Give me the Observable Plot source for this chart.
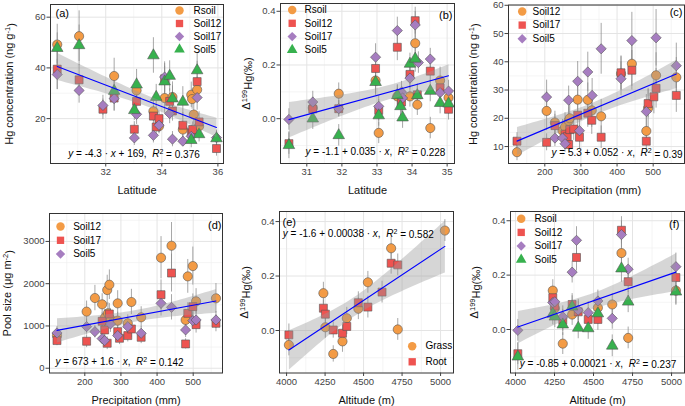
<!DOCTYPE html>
<html><head><meta charset="utf-8">
<script src="https://cdn.jsdelivr.net/npm/d3@7"></script>
<script src="https://cdn.jsdelivr.net/npm/@observablehq/plot@0.6"></script>
<style>
body{margin:0;background:#fff;}
#wrap{position:relative;width:685px;height:406px;overflow:hidden;background:#fff;font-family:"Liberation Sans",Arial,sans-serif;}
.panel{position:absolute;}
</style></head><body><div id="wrap"></div>
<script>
// ---------- DATA: [x, y, error] ----------
// (a) Hg concentration vs latitude
const a_Rsoil  = [[30.27,49.2,8],[31.05,52.5,10],[32.3,36.8,7],[33.1,31.1,5],[33.7,22.9,4],[33.9,17.0,3],[34.1,28.1,6],[34.38,28.5,6],[34.75,15.7,3],[35.05,29.4,5],[35.08,27.7,4],[35.14,21.6,5],[35.26,31.4,5],[35.33,17.0,3]];
const a_Soil12 = [[30.27,39.5,8],[31.05,35.3,6],[31.9,23.7,4],[32.3,28.1,5],[33.02,15.8,3],[33.1,26.8,5],[33.7,21.0,4],[33.8,16.7,3],[33.9,20.0,3],[34.1,35.7,6],[34.28,26.8,5],[34.38,23.0,4],[34.75,17.4,5],[35.05,14.4,3],[35.1,15.7,3],[35.26,34.6,8],[35.33,18.7,4],[35.95,8.2,3]];
const a_Soil17 = [[30.27,37.4,6],[31.05,31.1,5],[31.9,25.2,4],[32.3,27.9,5],[33.02,12.4,3],[33.1,21.7,4],[33.7,13.4,3],[33.9,17.4,3],[34.1,36.4,6],[34.28,22.0,4],[34.38,11.9,3],[34.75,11.1,2],[35.05,13.0,3],[35.26,28.3,5],[35.95,12.5,3]];
const a_Soil5  = [[30.27,47.8,6],[31.05,48.9,8],[32.3,30.9,5],[33.02,23.3,4],[33.1,33.4,6],[33.7,44.9,7],[33.8,28.5,5],[34.1,34.6,6],[34.28,36.8,6],[34.38,27.9,5],[34.75,26.6,6],[35.05,11.5,3],[35.26,39.0,7],[35.33,13.8,3],[35.95,12.2,3]];
// (b) Δ199Hg vs latitude
const b_Rsoil  = [[31.17,0.040,0.04],[31.91,0.093,0.04],[32.96,0.142,0.05],[33.05,-0.053,0.04],[33.58,0.083,0.04],[33.94,0.083,0.04],[34.09,0.281,0.05],[34.15,0.052,0.04],[34.52,-0.035,0.04],[34.80,0.142,0.05],[35.04,0.078,0.04]];
const b_Soil12 = [[30.49,-0.093,0.04],[31.17,0.036,0.04],[31.91,0.037,0.03],[32.96,0.187,0.05],[33.05,0.031,0.04],[33.58,0.266,0.05],[33.70,0.062,0.04],[33.94,0.165,0.04],[34.09,0.365,0.05],[34.15,0.089,0.04],[34.52,0.177,0.04],[34.80,0.115,0.04],[35.04,0.035,0.04]];
const b_Soil17 = [[30.49,-0.003,0.04],[31.17,0.062,0.04],[31.91,0.037,0.03],[32.96,0.229,0.05],[33.05,0.046,0.04],[33.58,0.328,0.05],[33.70,0.099,0.04],[33.73,0.077,0.04],[33.94,0.151,0.04],[34.09,0.349,0.05],[34.18,0.209,0.04],[34.52,0.222,0.04],[34.80,0.097,0.04],[35.04,0.103,0.04]];
const b_Soil5  = [[30.49,-0.099,0.05],[31.17,0.000,0.04],[31.91,-0.062,0.04],[32.96,0.136,0.05],[33.05,0.012,0.04],[33.58,0.087,0.04],[33.67,0.046,0.04],[33.73,0.004,0.04],[33.94,0.204,0.04],[34.09,0.223,0.05],[34.15,0.087,0.04],[34.52,0.103,0.04],[34.80,0.058,0.04],[35.04,0.056,0.04]];
// (c) Hg concentration vs precipitation
const c_Soil12 = [[123,8.0,3],[205,22.6,7],[228,18.5,4],[249,15.6,4],[256,17.0,5],[266,19.1,5],[269,20.0,6],[291,26.6,7],[319,26.5,6],[330,22.8,6],[356,20.7,6],[411,35.8,6],[441,39.3,8],[481,15.5,5],[486,23.6,7],[508,35.2,8],[564,34.5,7]];
const c_Soil17 = [[123,11.9,3],[205,11.5,3],[228,17.4,4],[256,14.4,4],[262,13.5,4],[266,10.7,3],[269,16.0,5],[280,16.2,4],[291,21.1,5],[296,13.3,4],[319,21.8,5],[330,19.3,5],[356,13.3,4],[411,36.1,6],[441,37.0,7],[481,11.9,4],[486,25.2,5],[502,27.6,6],[508,30.6,7],[564,28.1,6]];
const c_Soil5  = [[205,27.5,6],[228,13.0,3],[249,13.0,3],[256,11.0,3],[266,26.4,5],[291,33.1,7],[296,15.6,4],[319,36.4,7],[331,28.1,6],[356,44.6,9],[411,34.0,6],[441,47.5,10],[481,22.4,6],[508,48.5,10],[564,38.6,8]];
// (d) Pool size vs precipitation
const d_Soil12 = [[123,772,150],[205,1339,250],[228,1661,300],[248,1512,250],[255,1189,200],[262,1850,350],[264,1300,250],[268,1976,350],[271,1165,250],[291,1535,300],[291,1126,200],[319,1063,200],[329,1567,300],[356,1205,250],[411,2614,500],[440,2898,550],[479,1142,250],[485,2173,400],[499,2417,450],[508,1583,300],[563,1654,350]];
const d_Soil17 = [[123,654,120],[205,638,150],[248,1110,200],[255,906,180],[262,591,150],[268,1283,250],[291,866,180],[296,709,150],[319,772,150],[329,929,200],[356,732,150],[411,1740,350],[440,2252,450],[479,575,120],[485,1299,250],[499,1457,300],[508,1031,200],[563,1063,200]];
const d_Soil5  = [[123,835,150],[205,984,180],[228,866,150],[248,701,130],[255,654,130],[271,1047,200],[291,772,150],[319,984,180],[356,827,150],[411,1535,300],[440,1441,300],[479,906,180],[499,1126,200],[508,1142,200],[563,1142,200]];
// (e) Δ199Hg vs altitude (vegetation)
const e_Grass = [[4015,-0.053,0.04],[4239,0.137,0.04],[4252,0.012,0.04],[4303,-0.086,0.03],[4363,-0.040,0.04],[4391,0.045,0.04],[4466,0.080,0.04],[4528,0.177,0.04],[4679,0.302,0.04],[4722,0.004,0.04],[5028,0.367,0.04]];
const e_Root  = [[4015,-0.016,0.04],[4239,0.082,0.03],[4252,0.060,0.03],[4303,0.002,0.03],[4363,-0.010,0.03],[4391,0.015,0.03],[4466,0.102,0.04],[4528,0.086,0.04],[4620,0.141,0.04],[4679,0.247,0.04],[4722,0.241,0.04]];
// (f) Δ199Hg vs altitude (soils)
const f_Rsoil  = [[4239,0.143,0.04],[4252,0.078,0.04],[4303,-0.052,0.04],[4363,0.055,0.04],[4528,0.080,0.04],[4620,0.092,0.04],[4679,0.281,0.05],[4722,-0.031,0.04],[5028,0.143,0.05]];
const f_Soil12 = [[4015,-0.089,0.04],[4239,0.117,0.04],[4252,0.086,0.04],[4303,0.034,0.04],[4363,0.092,0.04],[4391,0.265,0.05],[4402,0.065,0.04],[4466,0.037,0.04],[4528,0.037,0.04],[4679,0.365,0.05],[4722,0.176,0.04],[5028,0.191,0.05]];
const f_Soil17 = [[4015,-0.003,0.04],[4239,0.099,0.04],[4252,0.102,0.04],[4303,0.047,0.04],[4363,0.211,0.04],[4391,0.328,0.05],[4402,0.071,0.04],[4466,0.062,0.04],[4528,0.105,0.04],[4620,0.041,0.04],[4679,0.349,0.05],[4722,0.222,0.04],[5028,0.231,0.05]];
const f_Soil5  = [[4015,-0.100,0.05],[4239,0.057,0.04],[4252,0.047,0.04],[4303,0.018,0.04],[4363,0.084,0.04],[4402,0.006,0.04],[4466,0.004,0.04],[4528,0.059,0.04],[4620,-0.060,0.04],[4679,0.224,0.05],[4722,0.102,0.04],[5028,0.139,0.05]];

// tick values
const latTicksA = [32,34,36], latMinorA = [31,33,35];
const hgTicksA = [20,40,60], hgMinorA = [10,30,50];
const latTicksB = [31,32,33,34,35], latMinorB = [30.5,31.5,32.5,33.5,34.5];
const dTicks = [0,0.2,0.4], dMinor = [-0.1,0.1,0.3];
const preTicks = [200,300,400,500], preMinor = [150,250,350,450,550];
const hgTicksC = [10,20,30,40,50,60], hgMinorC = [15,25,35,45,55];
const poolTicks = [0,1000,2000,3000], poolMinor = [500,1500,2500,3500];
const altTicks = [4000,4250,4500,4750,5000], altMinor = [4125,4375,4625,4875];

// equations: [text, italic?, superscript?]
const eqA = [["y",1],[" = -4.3 · "],["x",1],[" + 169,  "],["R",1],["2",0,1],[" = 0.376"]];
const eqB = [["y",1],[" = -1.1 + 0.035 · "],["x",1],[",  "],["R",1],["2",0,1],[" = 0.228"]];
const eqC = [["y",1],[" = 5.3 + 0.052 · "],["x",1],[",  "],["R",1],["2",0,1],[" = 0.39"]];
const eqD = [["y",1],[" = 673 + 1.6 · "],["x",1],[",  "],["R",1],["2",0,1],[" = 0.142"]];
const eqE = [["y",1],[" = -1.6 + 0.00038 · "],["x",1],[",  "],["R",1],["2",0,1],[" = 0.582"]];
const eqF = [["y",1],[" = -0.85 + 0.00021 · "],["x",1],[",  "],["R",1],["2",0,1],[" = 0.237"]];
// axis titles
const yHg = [["Hg concentration (ng g"],["-1",0,1],[")"]];
const yDelta = [["\u0394"],["199",0,1],["Hg(\u2030)"]];
const yPool = [["Pool size (\u03BCg m"],["-2",0,1],[")"]];

// ---------- STYLE ----------
const ORANGE = "#F39B45", RED = "#EE5350", PURPLE = "#A67DC0", GREEN = "#37B14E";
const sty = {
  circle: {symbol: "circle", fill: ORANGE, r: 4.6},
  square: {symbol: "square", fill: RED, r: 4.5},
  diamond: {symbol: "diamond2", fill: PURPLE, r: 4.6},
  triangle: {symbol: "triangle", fill: GREEN, r: 4.3}
};
const FONT = "Liberation Sans, Arial, Helvetica, sans-serif";
const NS = "http://www.w3.org/2000/svg";
const joinParts = p => p.map(d => d[0]).join("");

function richify(svg, parts, supSize) {
  const str = joinParts(parts);
  svg.querySelectorAll("text").forEach(t => {
    if (t.textContent === str) {
      t.textContent = "";
      t.setAttribute("style", "white-space:pre");
      let up = false;
      parts.forEach(([txt, it, sup]) => {
        const ts = document.createElementNS(NS, "tspan");
        ts.textContent = txt;
        if (it) ts.setAttribute("font-style", "italic");
        if (sup && !up) { ts.setAttribute("dy", "-0.42em"); up = true; }
        else if (!sup && up) { ts.setAttribute("dy", "0.42em"); up = false; }
        if (sup) ts.setAttribute("font-size", supSize);
        t.appendChild(ts);
      });
    }
  });
}

function makePanel(c) {
  const all = c.series.flatMap(s => s.data);
  const marks = [
    Plot.gridX(c.xm, {stroke: "#efefef", strokeWidth: 0.6, strokeOpacity: 1}),
    Plot.gridY(c.ym, {stroke: "#efefef", strokeWidth: 0.6, strokeOpacity: 1}),
    Plot.gridX(c.xt, {stroke: "#e4e4e4", strokeWidth: 1, strokeOpacity: 1}),
    Plot.gridY(c.yt, {stroke: "#e4e4e4", strokeWidth: 1, strokeOpacity: 1}),
    ...c.series.map(s => Plot.ruleX(s.data, {x: d => d[0], y1: d => d[1] - d[2], y2: d => d[1] + d[2], stroke: "#8a8a8a", strokeOpacity: 0.75, strokeWidth: 1, clip: true})),
    ...c.series.map(s => Plot.dot(s.data, {x: d => d[0], y: d => d[1], symbol: s.st.symbol, fill: s.st.fill, r: s.st.r, stroke: "#555", strokeWidth: 0.6, clip: true})),
    Plot.linearRegressionY(all, {x: d => d[0], y: d => d[1], stroke: "#0000ff", strokeWidth: 1.1, fill: "#999", fillOpacity: 0.4}),
    Plot.frame({stroke: "#333", strokeWidth: 1}),
    Plot.axisX(c.xt, {tickSize: 3.5, tickPadding: 1.5, fontSize: 9.5, label: null, tickFormat: c.xf}),
    Plot.axisY(c.yt, {tickSize: 3.5, tickPadding: 1.5, fontSize: 9.5, label: null, tickFormat: c.yf}),
    Plot.text([c.xTitle], {text: d => d, frameAnchor: "bottom", dy: 27, lineAnchor: "middle", textAnchor: "middle", fontSize: 11, fill: "#111"}),
    Plot.text([joinParts(c.yTitle)], {text: d => d, frameAnchor: "left", dx: c.yDx, rotate: -90, lineAnchor: "middle", textAnchor: "middle", fontSize: 11, fill: "#111"}),
    Plot.text([c.tag], {text: d => d, frameAnchor: c.tagA, dx: c.tagDx, dy: c.tagDy, lineAnchor: "middle", fontSize: 11, fill: "#000"}),
    Plot.text([joinParts(c.eq)], {text: d => d, frameAnchor: c.eqA, dx: c.eqDx, dy: c.eqDy, lineAnchor: "middle", textAnchor: c.eqTA, fontSize: 10, fill: "#000"})
  ];
  c.series.forEach((s, i) => {
    const dy = c.leg.dy + i * c.leg.step;
    marks.push(Plot.dot([s.name], {frameAnchor: "top-left", dx: c.leg.sx, dy, symbol: s.st.symbol, fill: s.st.fill, r: s.st.r * 0.92}));
    marks.push(Plot.text([s.name], {text: d => d, frameAnchor: "top-left", dx: c.leg.tx, dy, textAnchor: "start", lineAnchor: "middle", fontSize: 10, fill: "#000"}));
  });
  const svg = Plot.plot({
    width: c.w, height: c.h,
    marginLeft: c.ml, marginRight: c.mr, marginTop: c.mt, marginBottom: c.mb,
    x: {domain: c.xd}, y: {domain: c.yd},
    style: {fontFamily: FONT, fontSize: "9.5px", color: "#444", background: "transparent", overflow: "visible"},
    marks
  });
  richify(svg, c.eq, "7px");
  richify(svg, c.yTitle, "7.5px");
  const div = document.createElement("div");
  div.className = "panel";
  div.style.left = c.left + "px";
  div.style.top = c.top + "px";
  div.appendChild(svg);
  document.getElementById("wrap").appendChild(div);
}

const f1 = d3.format(".1f"), fd = d3.format("d");

makePanel({left: 0, top: 0, w: 228, h: 203, ml: 50, mr: 5, mt: 4, mb: 40,
  xd: [30.03, 36.2], yd: [2.3, 65], xt: latTicksA, xm: latMinorA, yt: hgTicksA, ym: hgMinorA, xf: fd, yf: fd,
  series: [{name: "Rsoil", data: a_Rsoil, st: sty.circle}, {name: "Soil12", data: a_Soil12, st: sty.square}, {name: "Soil17", data: a_Soil17, st: sty.diamond}, {name: "Soil5", data: a_Soil5, st: sty.triangle}],
  xTitle: "Latitude", yTitle: yHg, yDx: -41, tag: "(a)", tagA: "top-left", tagDx: 5, tagDy: 9,
  eq: eqA, eqA: "bottom", eqDx: -3, eqDy: -10, eqTA: "middle", leg: {sx: 129, tx: 143, dy: 6, step: 13}});

makePanel({left: 228, top: 0, w: 228, h: 203, ml: 52, mr: 2, mt: 3, mb: 40,
  xd: [30.25, 35.21], yd: [-0.167, 0.429], xt: latTicksB, xm: latMinorB, yt: dTicks, ym: dMinor, xf: fd, yf: f1,
  series: [{name: "Rsoil", data: b_Rsoil, st: sty.circle}, {name: "Soil12", data: b_Soil12, st: sty.square}, {name: "Soil17", data: b_Soil17, st: sty.diamond}, {name: "Soil5", data: b_Soil5, st: sty.triangle}],
  xTitle: "Latitude", yTitle: yDelta, yDx: -34, tag: "(b)", tagA: "top-right", tagDx: -2, tagDy: 12,
  eq: eqB, eqA: "bottom", eqDx: 8, eqDy: -11.5, eqTA: "middle", leg: {sx: 11.7, tx: 24, dy: 6.5, step: 13.3}});

makePanel({left: 456, top: 0, w: 229, h: 203, ml: 52, mr: 1, mt: 4.5, mb: 40,
  xd: [99.5, 586.7], yd: [4.0, 60.1], xt: preTicks, xm: preMinor, yt: hgTicksC, ym: hgMinorC, xf: fd, yf: fd,
  series: [{name: "Soil12", data: c_Soil12, st: sty.circle}, {name: "Soil17", data: c_Soil17, st: sty.square}, {name: "Soil5", data: c_Soil5, st: sty.diamond}],
  xTitle: "Precipitation (mm)", yTitle: yHg, yDx: -35, tag: "(c)", tagA: "top-right", tagDx: -2, tagDy: 7.5,
  eq: eqC, eqA: "bottom-right", eqDx: -2, eqDy: -10.3, eqTA: "end", leg: {sx: 13.7, tx: 24, dy: 6.5, step: 13.6}});

makePanel({left: 0, top: 203, w: 228, h: 203, ml: 49, mr: 6, mt: 10, mb: 33.5,
  xd: [102.3, 581.1], yd: [-113, 3661], xt: preTicks, xm: preMinor, yt: poolTicks, ym: poolMinor, xf: fd, yf: fd,
  series: [{name: "Soil12", data: d_Soil12, st: sty.circle}, {name: "Soil17", data: d_Soil17, st: sty.square}, {name: "Soil5", data: d_Soil5, st: sty.diamond}],
  xTitle: "Precipitation (mm)", yTitle: yPool, yDx: -42, tag: "(d)", tagA: "top-right", tagDx: -1, tagDy: 12,
  eq: eqD, eqA: "bottom-left", eqDx: 6, eqDy: -11.5, eqTA: "start", leg: {sx: 11, tx: 23.7, dy: 13, step: 13.8}});

makePanel({left: 228, top: 203, w: 228, h: 203, ml: 51, mr: 3, mt: 8, mb: 33.5,
  xd: [3954, 5084], yd: [-0.156, 0.437], xt: altTicks, xm: altMinor, yt: dTicks, ym: dMinor, xf: fd, yf: f1,
  series: [{name: "Grass", data: e_Grass, st: sty.circle}, {name: "Root", data: e_Root, st: sty.square}],
  xTitle: "Altitude (m)", yTitle: yDelta, yDx: -35, tag: "(e)", tagA: "top-left", tagDx: 3, tagDy: 10.7,
  eq: eqE, eqA: "top-left", eqDx: 3.3, eqDy: 22.3, eqTA: "start", leg: {sx: 132.7, tx: 146, dy: 134.7, step: 15.6}});

makePanel({left: 456, top: 203, w: 229, h: 203, ml: 54, mr: 1, mt: 8, mb: 33.5,
  xd: [3968, 5083], yd: [-0.160, 0.434], xt: altTicks, xm: altMinor, yt: dTicks, ym: dMinor, xf: fd, yf: f1,
  series: [{name: "Rsoil", data: f_Rsoil, st: sty.circle}, {name: "Soil12", data: f_Soil12, st: sty.square}, {name: "Soil17", data: f_Soil17, st: sty.diamond}, {name: "Soil5", data: f_Soil5, st: sty.triangle}],
  xTitle: "Altitude (m)", yTitle: yDelta, yDx: -36, tag: "(f)", tagA: "top-right", tagDx: -5, tagDy: 13,
  eq: eqF, eqA: "bottom", eqDx: 0.5, eqDy: -9.2, eqTA: "middle", leg: {sx: 10.7, tx: 24, dy: 7.3, step: 13.6}});
</script>
</body></html>
